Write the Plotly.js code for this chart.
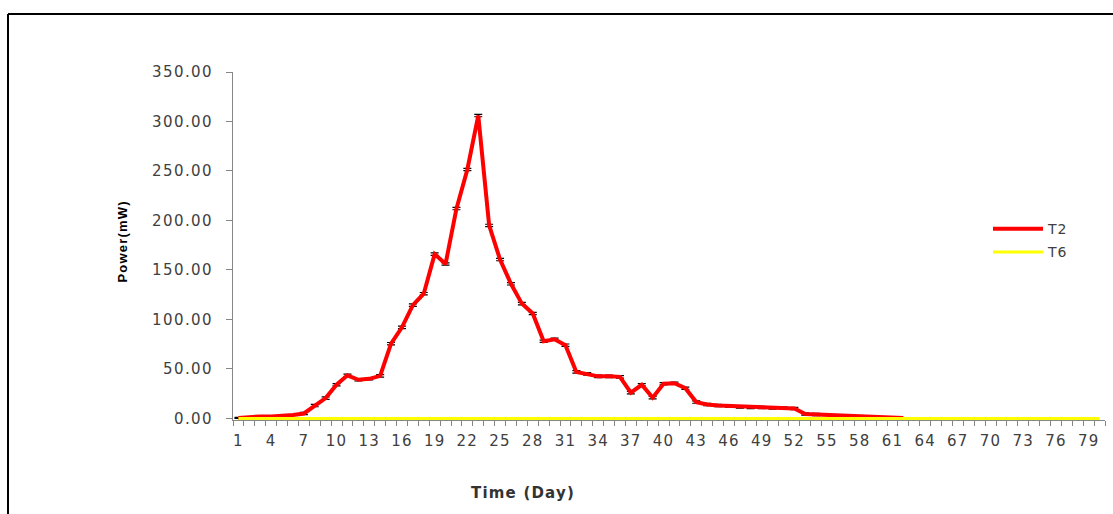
<!DOCTYPE html>
<html>
<head>
<meta charset="utf-8">
<script src="https://cdn.plot.ly/plotly-3.0.1.min.js"></script>
<style>
html,body{margin:0;padding:0;background:#fff;}
#chart{width:1113px;height:514px;}
#chart .ytick text{letter-spacing:1.4px;}
#chart .xtick text{letter-spacing:1.2px;}
#chart .annotation-text-g text.annotation-text{letter-spacing:1.2px;}
#chart .legendtext{letter-spacing:1px;}
</style>
</head>
<body>
<div id="chart"></div>
<script>
// ---- data ----
const days = [1,2,3,4,5,6,7,8,9,10,11,12,13,14,15,16,17,18,19,20,
  21,22,23,24,25,26,27,28,29,30,31,32,33,34,35,36,37,38,39,40,
  41,42,43,44,45,46,47,48,49,50,51,52,53,54,55,56,57,58,59,60,
  61,62,63,64,65,66,67,68,69,70,71,72,73,74,75,76,77,78,79,80];
const t2Days = [1,2,3,4,5,6,7,8,9,10,11,12,13,14,15,16,17,18,19,20,
  21,22,23,24,25,26,27,28,29,30,31,32,33,34,35,36,37,38,39,40,
  41,42,43,44,45,46,47,48,49,50,51,52,53,54,55,56,57,58,59,60,61,62];
const t2Power = [0.5,1.5,2,2,2.5,3.5,5,13,20.5,34,43.5,39,40,43,75.5,92,114.5,126,166,156,
  212,251.5,306,195,160.5,136,116,106,78,80,74,47,45,42.5,42.5,42,26,34,21,35,
  35.5,30.5,16.5,14,13,12.5,11.5,11,11,10.5,10.5,10,4.5,4,4,3.3,2.7,2.4,2,1.5,1,0.3];
const t2Err = [0.5,0,0,0,0,0,1.2,1.2,1.2,1.2,1.2,1.2,1.2,1.2,1.2,1.2,1.2,1.2,1.2,1.2,
  1.2,1.2,1.2,1.2,1.2,1.2,1.2,1.2,1.2,1.2,1.2,1.2,1.2,1.2,1.2,1.2,1.2,1.2,1.2,1.2,
  1.2,1.2,1.2,1.2,1.2,1.2,1.2,1.2,1.2,1.2,1.2,1.2,1.2,1.2,0,0,0,0,0,0,0,0];
const t6Power = [0,0,0,0,0,0,0,0,0,0,0,0,0,0,0,0,0,0,0,0,
  0,0,0,0,0,0,0,0,0,0,0,0,0,0,0,0,0,0,0,0,
  0,0,0,0,0,0,0,0,0,0,0,0,0,0,0,0,0,0,0,0,
  0,0,0,0,0,0,0,0,0,0,0,0,0,0,0,0,0,0,0,0];
const xTickVals = [1,4,7,10,13,16,19,22,25,28,31,34,37,40,43,46,49,52,55,58,61,64,67,70,73,76,79];
const yTickVals = [0,50,100,150,200,250,300,350];
const yTickText = ["0.00","50.00","100.00","150.00","200.00","250.00","300.00","350.00"];

const tickFont = {family:"DejaVu Sans, Verdana, sans-serif", size:15, color:"#404040"};

const traces = [
  {x: t2Days, y: t2Power, name: "T2", type: "scatter", mode: "lines", legendgroup: "a",
   line: {color: "#ff0000", width: 4},
   error_y: {type: "data", array: t2Err, visible: true, color: "#000000", thickness: 1.2, width: 4}},
  {x: days, y: t6Power, name: "T6", type: "scatter", mode: "lines", legendgroup: "b",
   line: {color: "#ffff00", width: 3}}
];

const L = 233, R = 8, T = 72, W = 1113, H = 514;
const ymin = -1.6;
const zeroY = 418;                     // pixel row of value 0
const ph = zeroY - T;                  // pixels for 0..350
const pxPerUnit = ph / 350;
const B = H - zeroY - (-ymin) * pxPerUnit;
const pw = W - L - R, phAll = H - T - B;
const px = v => (v - L) / pw;
const py = v => (H - B - v) / phAll;

const layout = {
  width: W, height: H,
  margin: {l: L, r: R, t: T, b: B, pad: 0},
  paper_bgcolor: "#ffffff", plot_bgcolor: "#ffffff",
  showlegend: true,
  legend: {x: px(988), y: py(213), xanchor: "left", yanchor: "top",
           font: {family: "DejaVu Sans, Verdana, sans-serif", size: 14, color: "#404040"},
           bgcolor: "rgba(0,0,0,0)", traceorder: "grouped", tracegroupgap: 2, itemwidth: 50},
  xaxis: {range: [0.5, 80.5], tickmode: "array", tickvals: xTickVals,
          ticks: "", showgrid: false, zeroline: false, layer: "below traces",
          showline: true, linecolor: "#868686", linewidth: 1,
          tickfont: tickFont, ticklabelstandoff: 7,
          minor: {tickmode: "linear", tick0: 0.5, dtick: 1, ticks: "outside", ticklen: 5,
                  tickcolor: "#868686", tickwidth: 1, showgrid: false}},
  yaxis: {range: [ymin, 350], tickmode: "array", tickvals: yTickVals, ticktext: yTickText,
          ticks: "outside", ticklen: 6, tickcolor: "#868686", tickwidth: 1,
          showgrid: false, zeroline: false, layer: "below traces",
          showline: true, linecolor: "#868686", linewidth: 1,
          tickfont: tickFont, ticklabelstandoff: 10},
  annotations: [
    {text: "<b>Power(mW)</b>", xref: "paper", yref: "paper", x: px(122), y: py(241),
     textangle: -90, showarrow: false, xanchor: "center", yanchor: "middle",
     font: {family: "Liberation Sans Narrow, Liberation Sans, Arial, sans-serif", size: 13, color: "#000000"}},
    {text: "<b>Time (Day)</b>", xref: "paper", yref: "paper", x: px(523), y: py(492),
     showarrow: false, xanchor: "center", yanchor: "middle",
     font: {family: "DejaVu Sans, Verdana, sans-serif", size: 15, color: "#333333"}}
  ],
  shapes: [
    {type: "line", xref: "paper", yref: "paper", x0: px(8), x1: px(1113), y0: py(14), y1: py(14),
     line: {color: "#000000", width: 2}},
    {type: "line", xref: "paper", yref: "paper", x0: px(8), x1: px(8), y0: py(14), y1: py(514),
     line: {color: "#000000", width: 2}}
  ]
};

Plotly.newPlot("chart", traces, layout, {displayModeBar: false, staticPlot: true});
</script>
</body>
</html>
